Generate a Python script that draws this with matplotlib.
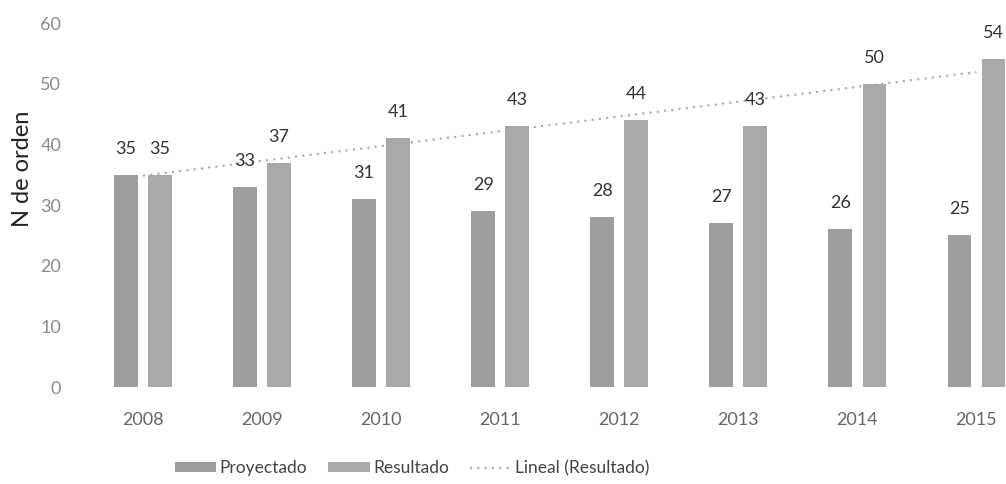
import numpy as np
import matplotlib.pyplot as plt

years = ['2008', '2009', '2010', '2011', '2012', '2013', '2014', '2015']
proyectado = [35, 33, 31, 29, 28, 27, 26, 25]
resultado = [35, 37, 41, 43, 44, 43, 50, 54]

plt.rcParams['font.family'] = ['Lato', 'DejaVu Sans']

fig = plt.figure(figsize=(10.06, 4.84), dpi=100)
ax = fig.add_axes([0.083, 0.2004, 0.9468, 0.752])

x = np.arange(len(years))
w = 0.2
off = 0.143
b1 = ax.bar(x - off, proyectado, w, color='#9e9e9e', label='Proyectado', zorder=2)
b2 = ax.bar(x + off, resultado, w, color='#a9a9a9', label='Resultado', zorder=2)

# linear trend of Resultado
slope, inter = np.polyfit(x, resultado, 1)
trend, = ax.plot(x, slope * x + inter, linestyle=(0, (1, 2.5)), color='#a8a8a8',
                 linewidth=1.5, label='Lineal (Resultado)', zorder=1)

for bars, vals in [(b1, proyectado), (b2, resultado)]:
    for r, v in zip(bars, vals):
        ax.annotate(str(v), (r.get_x() + r.get_width() / 2, v),
                    xytext=(0, 13), textcoords='offset points',
                    ha='center', va='bottom', fontsize=13, color='#333333')

ax.set_xlim(-0.5, 7.5)
ax.set_ylim(0, 60)
ax.set_yticks(range(0, 61, 10))
ax.set_xticks(x)
ax.set_xticklabels(years)
ax.tick_params(axis='both', length=0, labelsize=13)
ax.tick_params(axis='y', pad=16, labelcolor='#8a8a8a')
ax.tick_params(axis='x', pad=18, labelcolor='#666666')
for s in ax.spines.values():
    s.set_visible(False)
ax.set_ylabel('N de orden', fontsize=17, color='#222222')
ax.yaxis.set_label_coords(-0.053, 0.6)

fig.legend(handles=[b1, b2, trend], loc='center',
           bbox_to_anchor=(412 / 1006, 1 - 468 / 484), ncol=3,
           frameon=False, fontsize=12.5, handlelength=2.4, handleheight=0.45,
           columnspacing=1.2, handletextpad=0.2, labelcolor='#444444')

fig.savefig('out.png', dpi=100)
